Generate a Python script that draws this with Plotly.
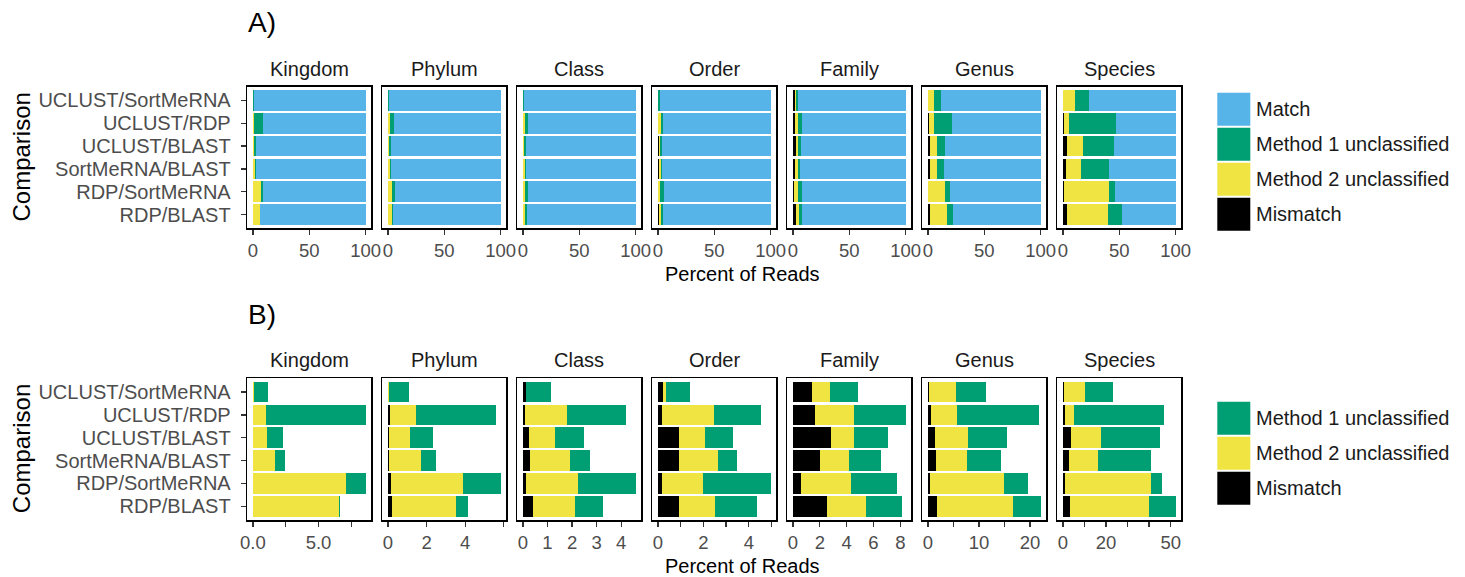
import plotly.graph_objects as go

# ---------------- data ----------------
comparisons = ["UCLUST/SortMeRNA", "UCLUST/RDP", "UCLUST/BLAST",
               "SortMeRNA/BLAST", "RDP/SortMeRNA", "RDP/BLAST"]
levels = ["Kingdom", "Phylum", "Class", "Order", "Family", "Genus", "Species"]

# percent of reads, rows follow `comparisons`
mismatch = {
    "Kingdom": [0.0, 0.0, 0.0, 0.0, 0.0, 0.03],
    "Phylum":  [0.0, 0.10, 0.05, 0.04, 0.17, 0.22],
    "Class":   [0.11, 0.08, 0.26, 0.30, 0.14, 0.42],
    "Order":   [0.23, 0.19, 0.93, 0.93, 0.19, 0.93],
    "Family":  [1.43, 1.65, 2.84, 2.02, 0.62, 2.54],
    "Genus":   [0.19, 0.65, 1.43, 1.62, 0.45, 1.82],
    "Species": [0.46, 1.08, 3.85, 2.92, 1.10, 3.38],
}
method2_uncl = {
    "Kingdom": [0.07, 1.01, 1.09, 1.69, 7.07, 6.51],
    "Phylum":  [0.05, 1.36, 1.10, 1.68, 3.71, 3.30],
    "Class":   [0.03, 1.72, 1.05, 1.62, 2.10, 1.70],
    "Order":   [0.13, 2.28, 1.14, 1.71, 1.80, 1.58],
    "Family":  [1.34, 2.89, 1.70, 2.15, 3.70, 2.89],
    "Genus":   [5.33, 5.06, 6.43, 6.04, 14.42, 14.80],
    "Species": [9.85, 4.15, 13.84, 13.39, 39.67, 36.47],
}
method1_uncl = {
    "Kingdom": [1.09, 7.58, 1.21, 0.76, 1.52, 0.08],
    "Phylum":  [1.05, 4.12, 1.19, 0.77, 1.96, 0.62],
    "Class":   [1.01, 2.39, 1.18, 0.81, 2.35, 1.14],
    "Order":   [1.06, 2.06, 1.23, 0.83, 2.97, 1.84],
    "Family":  [2.07, 3.86, 2.52, 2.37, 3.41, 2.67],
    "Genus":   [5.84, 15.98, 7.59, 6.63, 4.68, 5.46],
    "Species": [12.92, 41.54, 27.23, 24.46, 5.08, 12.46],
}
match = {
    "Kingdom": [98.8, 91.4, 97.7, 97.5, 91.4, 93.4],
    "Phylum":  [98.9, 94.4, 97.7, 97.5, 94.2, 95.9],
    "Class":   [98.9, 95.8, 97.5, 97.3, 95.4, 96.7],
    "Order":   [98.6, 95.5, 96.7, 96.5, 95.0, 95.7],
    "Family":  [95.2, 91.6, 92.9, 93.5, 92.3, 91.9],
    "Genus":   [88.6, 78.3, 84.6, 85.7, 80.5, 77.9],
    "Species": [76.8, 53.2, 55.1, 59.2, 54.2, 47.7],
}

tickvals_a = [0, 50, 100]
ticktext_a = ["0", "50", "100"]
tickvals_b = {
    "Kingdom": [0, 2.5, 5, 7.5],
    "Phylum": [0, 2, 4, 6],
    "Class": [0, 1, 2, 3, 4],
    "Order": [0, 1, 2, 3, 4, 5],
    "Family": [0, 2, 4, 6, 8],
    "Genus": [0, 5, 10, 15, 20],
    "Species": [0, 10, 20, 30, 40, 50],
}
ticktext_b = {
    "Kingdom": ["0.0", "", "5.0", ""],
    "Phylum": ["0", "2", "4", ""],
    "Class": ["0", "1", "2", "3", "4"],
    "Order": ["0", "", "2", "", "4", ""],
    "Family": ["0", "2", "4", "6", "8"],
    "Genus": ["0", "", "10", "", "20"],
    "Species": ["0", "", "20", "", "", "50"],
}

series_a = [("Mismatch", mismatch), ("Method 2 unclassified", method2_uncl),
            ("Method 1 unclassified", method1_uncl), ("Match", match)]
series_b = series_a[:3]
colors = {"Match": "#56B4E9", "Method 1 unclassified": "#009E73",
          "Method 2 unclassified": "#F0E442", "Mismatch": "#000000"}

# ---------------- layout helpers ----------------
W, H = 1465, 577
FONT = "Liberation Sans, Arial, Helvetica, sans-serif"
FS = 20
FS_X = 18.5


def fx(px):
    return px / W


def fy(py):
    return 1 - py / H


panel_left0 = 247.3
panel_step = 135.0
panel_w = 124.0
rows_px = [(86.7, 228.3), (378.3, 520.0)]

fig = go.Figure()
layout = dict(
    template="none",
    width=W, height=H, autosize=False,
    margin=dict(l=0, r=0, t=0, b=0, pad=0),
    paper_bgcolor="white", plot_bgcolor="white",
    barmode="stack", bargap=0.1, showlegend=False,
    font=dict(family=FONT, size=FS, color="#1a1a1a"),
)
annotations = []
shapes = []

for r, (series, top_bot) in enumerate(zip([series_a, series_b], rows_px)):
    top, bot = top_bot
    for c, lvl in enumerate(levels):
        k = r * 7 + c + 1
        xa = "x" if k == 1 else f"x{k}"
        ya = "y" if k == 1 else f"y{k}"
        for name, d in series:
            fig.add_trace(go.Bar(
                x=d[lvl], y=comparisons, orientation="h", name=name,
                marker=dict(color=colors[name], line=dict(width=0)),
                width=0.9, xaxis=xa, yaxis=ya, showlegend=False,
            ))
        left = panel_left0 + panel_step * c
        if r == 0:
            xr = [-5, 105]
            tv, tt = tickvals_a, ticktext_a
        else:
            tot = max(a + b + e for a, b, e in zip(mismatch[lvl], method2_uncl[lvl], method1_uncl[lvl]))
            xr = [-0.05 * tot, 1.05 * tot]
            tv, tt = tickvals_b[lvl], ticktext_b[lvl]
        xkey = "xaxis" if k == 1 else f"xaxis{k}"
        ykey = "yaxis" if k == 1 else f"yaxis{k}"
        layout[xkey] = dict(
            domain=[fx(left), fx(left + panel_w)], anchor=ya, range=xr,
            automargin=False,
            tickmode="array", tickvals=tv, ticktext=tt,
            ticks="outside", ticklen=5, tickwidth=1.3, tickcolor="#333333",
            tickfont=dict(size=FS_X, color="#4d4d4d", family=FONT),
            showline=True, linecolor="black", linewidth=1.6, mirror=True,
            showgrid=False, zeroline=False, fixedrange=True,
        )
        layout[ykey] = dict(
            domain=[fy(bot), fy(top)], anchor=xa, automargin=False,
            type="category", categoryorder="array", categoryarray=comparisons,
            tickmode="array", tickvals=comparisons, ticktext=comparisons,
            range=[5.6, -0.6],
            ticks="outside" if c == 0 else "", ticklen=5, tickwidth=1.3,
            tickcolor="#333333", showticklabels=(c == 0),
            tickfont=dict(size=FS, color="#4d4d4d", family=FONT),
            ticklabelstandoff=6,
            showline=True, linecolor="black", linewidth=1.6, mirror=True,
            showgrid=False, zeroline=False, fixedrange=True,
        )
        # strip title
        annotations.append(dict(
            x=fx(left + panel_w / 2), y=fy(top - 18), xref="paper", yref="paper",
            text=lvl, showarrow=False, xanchor="center", yanchor="middle",
            font=dict(size=FS, color="#1a1a1a", family=FONT)))
    # axis titles
    annotations.append(dict(
        x=fx(742.5), y=fy(bot + 46), xref="paper", yref="paper",
        text="Percent of Reads", showarrow=False, xanchor="center", yanchor="middle",
        font=dict(size=FS, color="black", family=FONT)))
    annotations.append(dict(
        x=fx(21), y=fy((top + bot) / 2), xref="paper", yref="paper",
        text="Comparison", showarrow=False, textangle=-90,
        xanchor="center", yanchor="middle",
        font=dict(size=24, color="black", family=FONT)))

# panel labels
annotations.append(dict(x=fx(246), y=fy(22), xref="paper", yref="paper", text="A)",
                        showarrow=False, xanchor="left", yanchor="middle",
                        font=dict(size=28, color="black", family=FONT)))
annotations.append(dict(x=fx(246), y=fy(314), xref="paper", yref="paper", text="B)",
                        showarrow=False, xanchor="left", yanchor="middle",
                        font=dict(size=28, color="black", family=FONT)))

# legends (drawn as keys)
legend_a = ["Match", "Method 1 unclassified", "Method 2 unclassified", "Mismatch"]
legend_b = ["Method 1 unclassified", "Method 2 unclassified", "Mismatch"]
for names, top0 in [(legend_a, 92.7), (legend_b, 401.7)]:
    for i, nm in enumerate(names):
        t = top0 + 35 * i
        shapes.append(dict(type="rect", xref="paper", yref="paper",
                           x0=fx(1217.3), x1=fx(1250.3), y0=fy(t + 33), y1=fy(t),
                           fillcolor=colors[nm], line=dict(width=0)))
        annotations.append(dict(x=fx(1254), y=fy(t + 16.5), xref="paper", yref="paper",
                                text=nm, showarrow=False, xanchor="left", yanchor="middle",
                                font=dict(size=FS, color="#1a1a1a", family=FONT)))

layout["annotations"] = annotations
layout["shapes"] = shapes
fig.update_layout(**layout)
fig.write_html(
    "out.html",
    config={"displayModeBar": False, "staticPlot": True},
    post_script="document.body.style.margin='0';document.body.style.overflow='hidden';",
)
